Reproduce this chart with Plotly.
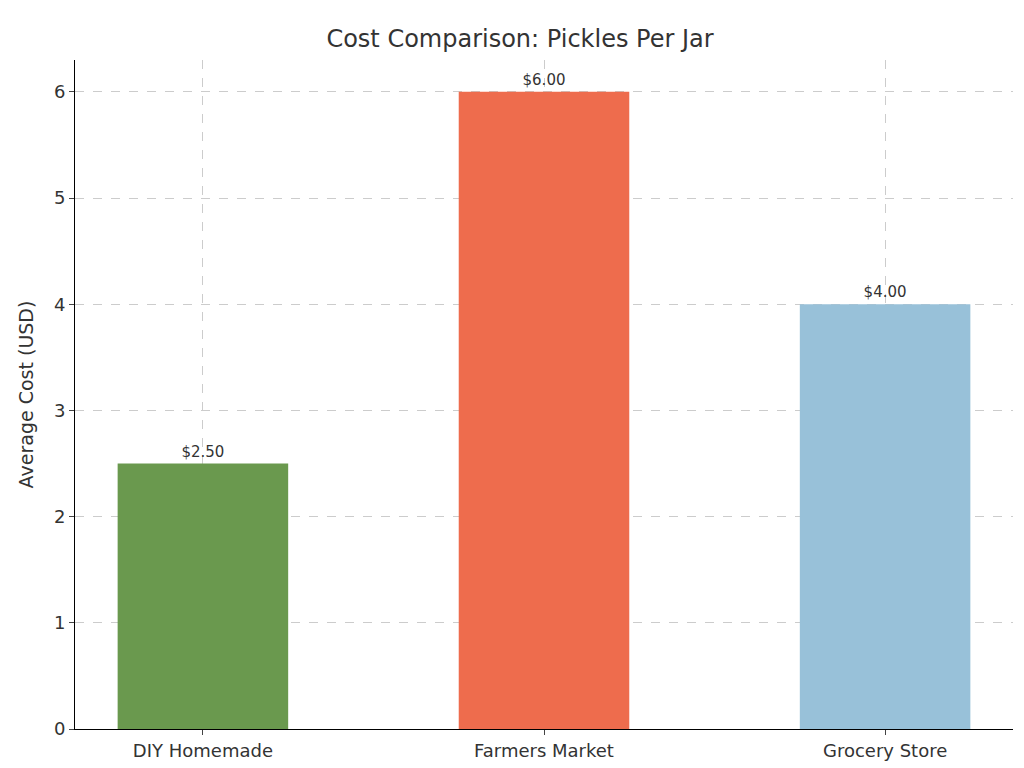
import plotly.graph_objects as go

categories = ["DIY Homemade", "Farmers Market", "Grocery Store"]
costs = [2.5, 6.0, 4.0]
colors = ["#6a994e", "#ee6c4d", "#98c1d9"]
labels = [f"${v:.2f}" for v in costs]

fig = go.Figure(go.Bar(
    x=list(range(len(categories))), y=costs, width=0.5,
    marker=dict(color=colors, line=dict(width=0)),
    text=labels, textposition="outside", cliponaxis=False,
    textfont=dict(size=15, color="#333333"),
))
fig.update_layout(
    width=1024, height=768, plot_bgcolor="white", paper_bgcolor="white",
    margin=dict(l=67, r=19, t=52, b=47),
    font=dict(family="DejaVu Sans", color="#333333"),
    title=dict(text="Cost Comparison: Pickles Per Jar", x=0.5, xanchor="center",
               y=0.96, yanchor="middle", font=dict(size=24, color="#333333")),
    showlegend=False,
)
fig.update_xaxes(range=[-0.375, 2.375], tickvals=list(range(len(categories))),
                 ticktext=categories, tickfont=dict(size=18), showgrid=True,
                 gridcolor="#cccccc", griddash="dash", gridwidth=1,
                 showline=True, linecolor="black", ticks="outside", ticklen=5,
                 zeroline=False)
fig.update_yaxes(range=[0, 6.3], dtick=1, tickfont=dict(size=18), showgrid=True,
                 gridcolor="#cccccc", griddash="dash", gridwidth=1,
                 showline=True, linecolor="black", ticks="outside", ticklen=5,
                 zeroline=False, title=dict(text="Average Cost (USD)", font=dict(size=19)))
fig.write_html("out.html")
